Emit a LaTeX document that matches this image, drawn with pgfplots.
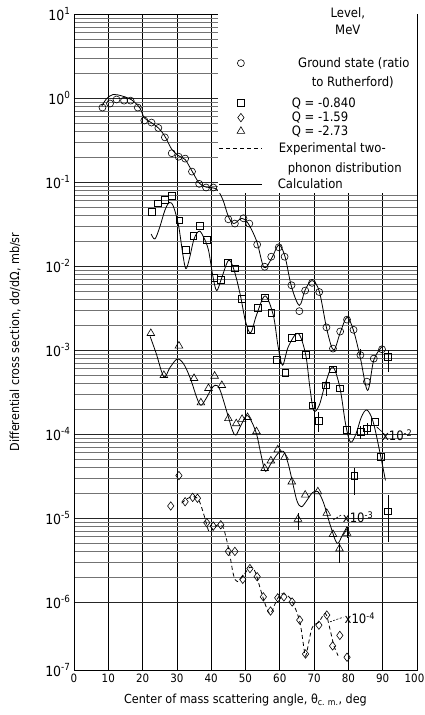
\documentclass[border=0pt]{standalone}
\usepackage{pgfplots}
\pgfplotsset{compat=1.18}
\usepackage{fontspec}
\setmainfont{DejaVu Sans Condensed}
\usetikzlibrary{calc}
% legend text cell of fixed width, no height/depth (spacing comes from the legend images)
\newcommand{\LE}[1]{\smash{\makebox[122bp][l]{#1}}}
\pgfplotsset{
  mymark/.style={legend image code/.code={\path[draw=none,fill=none] (0bp,0bp) rectangle (43bp,#1bp);\draw[##1] plot coordinates {(21.5bp,4bp)};}},
  myline/.style={legend image code/.code={\path[draw=none,fill=none] (0bp,0bp) rectangle (43bp,#1bp);\draw[##1] (0bp,4bp) -- (43bp,4bp);}},
  myblank/.style={legend image code/.code={\path[draw=none,fill=none] (0bp,0bp) rectangle (43bp,#1bp);}},
  mk/.style={only marks, mark options={solid, draw=black, fill=white, line width=0.6bp}, mark size=3.5bp},
  crv/.style={black, line width=0.8bp, smooth, tension=0.55, mark=none},
  ebar/.style={error bars/.cd, y dir=both, y explicit, error mark=none,
     error bar style={black, line width=0.6bp, solid}},
}
\begin{document}
\begin{tikzpicture}
\begin{axis}[
  name=ax,
  scale only axis, width=343bp, height=656bp,
  ymode=log, xmin=0, xmax=100, ymin=1.55e-7, ymax=10,
  xtick={0,10,...,100},
  xticklabels={0,10,20,30,40,50,60,70,80,90,100\hspace*{5bp}},
  ytick={1e-6,1e-5,1e-4,1e-3,1e-2,1e-1,1,10},
  yticklabels={10\textsuperscript{-6},10\textsuperscript{-5},10\textsuperscript{-4},10\textsuperscript{-3},10\textsuperscript{-2},10\textsuperscript{-1},10\textsuperscript{0},10\textsuperscript{1}},
  extra y ticks={1.55e-7}, extra y tick labels={10\textsuperscript{-7}},
  extra y tick style={grid=none},
  /pgf/number format/assume math mode=true,
  xticklabel style={font=\fontsize{11.5}{12}\selectfont},
  yticklabel style={font=\fontsize{14}{14}\selectfont},
  major tick length=0pt, minor tick length=0pt,
  grid=both,
  major grid style={black!85, line width=0.7bp},
  minor grid style={black!55, line width=0.4bp},
  x grid style={black, line width=0.7bp},
  axis line style={black, line width=0.8bp},
  clip=false,
  xlabel={Center of mass scattering angle, θ\textsubscript{c. m.}, deg},
  ylabel={Differential cross section, dσ/dΩ, mb/sr},
  label style={font=\fontsize{12.5}{13}\selectfont},
  xlabel style={at={(axis description cs:0.5,-0.046)}, anchor=center},
  ylabel style={at={(axis description cs:-0.172,0.5)}, anchor=center},
  legend style={at={(rel axis cs:1,1)}, anchor=north east, draw=none, fill=white,
     inner sep=1bp, font=\fontsize{13}{13}\selectfont, row sep=0bp,
     cells={anchor=base west, inner sep=0bp},
     /tikz/every odd column/.append style={column sep=27bp}},
]
% ---- legend ----
\addlegendimage{myblank=1}
\addlegendentry{\LE{\makebox[112bp][c]{Level,}}}
\addlegendimage{myblank=14}
\addlegendentry{\LE{\makebox[112bp][c]{MeV}}}
\addlegendimage{mymark=29, black, mark=o, mark size=3.5bp, mark options={fill=white, line width=0.6bp}}
\addlegendentry{\LE{\makebox[124bp][c]{Ground state (ratio}}}
\addlegendimage{myblank=16}
\addlegendentry{\LE{\makebox[122bp][c]{to Rutherford)}}}
\addlegendimage{mymark=17, black, mark=square, mark size=3.4bp, mark options={fill=white, line width=0.6bp}}
\addlegendentry{\LE{Q = -0.840}}
\addlegendimage{mymark=11, black, mark=diamond, mark size=4.2bp, mark options={fill=white, line width=0.6bp}}
\addlegendentry{\LE{Q = -1.59}}
\addlegendimage{mymark=10, black, mark=triangle, mark size=4.4bp, mark options={fill=white, line width=0.6bp}}
\addlegendentry{\LE{Q = -2.73}}
\addlegendimage{myline=14, black, line width=0.8bp, dash pattern=on 4bp off 3bp}
\addlegendentry{\LE{\hspace*{-13bp}Experimental two-}}
\addlegendimage{myblank=16}
\addlegendentry{\LE{\hspace*{-4bp}phonon distribution}}
\addlegendimage{myline=13, black, line width=0.8bp}
\addlegendentry{\LE{\hspace*{-14bp}Calculation}}

% ---- calculation curves ----
\addplot[crv, forget plot] coordinates {
(8.1,0.80)(9.5,0.98)(11.4,1.10)(13.9,1.06)(16.8,0.95)(19.2,0.76)(20.5,0.58)(22.5,0.51)(24.6,0.44)(26.5,0.35)(28.5,0.245)(30.5,0.205)(32.4,0.185)(34.4,0.135)(36.5,0.097)(38.5,0.087)(40.6,0.085)(42,0.079)(43.5,0.06)(45,0.039)(46.6,0.032)(48.9,0.037)(50.8,0.032)(53.3,0.0195)(55.4,0.0096)(57.6,0.0123)(59.7,0.0178)(61.5,0.013)(63.4,0.0057)(65.7,0.0034)(67.4,0.0052)(69.4,0.0067)(71.5,0.005)(73.8,0.0017)(75.7,0.001)(77.6,0.0016)(79.6,0.00245)(81.5,0.0017)(83.5,0.0008)(85.6,0.00033)(87.4,0.00076)(89.8,0.0011)};
\addplot[crv, forget plot] coordinates {
(22.5,0.024)(23.6,0.021)(25,0.029)(26.5,0.046)(27.8,0.057)(29,0.051)(30.5,0.03)(31.7,0.014)(32.6,0.0093)(33.6,0.012)(35,0.021)(36.5,0.026)(37.8,0.022)(39.2,0.0155)(40.5,0.0075)(41.6,0.0051)(43,0.0071)(45,0.0116)(46.5,0.0094)(48.4,0.0047)(50,0.0022)(51.5,0.0016)(53.2,0.0026)(55.7,0.0044)(58.1,0.0026)(59.5,0.0011)(60.8,0.00066)(62.5,0.0011)(65.3,0.00158)(67.5,0.0009)(68.8,0.00035)(69.9,0.00019)(71.5,0.00022)(73.3,0.0004)(75.4,0.00063)(77.5,0.00036)(79.2,0.00013)(80.6,0.00008)(82.2,0.0001)(83.8,0.00016)(85.4,0.000193)(87.2,0.00014)(89.2,6e-5)(90.8,2.8e-5)};
\addplot[crv, forget plot] coordinates {
(22.2,0.00145)(24,0.0009)(26.2,0.00048)(28,0.00062)(30.1,0.00078)(32,0.00068)(34,0.00045)(35.8,0.00027)(37,0.00022)(38.4,0.00026)(40,0.00034)(41.1,0.00038)(42.5,0.00034)(45,0.00016)(46.2,0.00011)(47.2,0.000097)(48.8,0.00013)(50.4,0.000166)(51.8,0.00014)(53.3,0.000097)(54.6,5.5e-5)(55.8,3.6e-5)(57.5,4.5e-5)(59.5,5.9e-5)(61.1,6.2e-5)(62.4,4.5e-5)(63.6,2.8e-5)(65,1.6e-5)(66.3,1.36e-5)(67.8,1.6e-5)(69.5,2e-5)(71.1,2.06e-5)(72.8,1.5e-5)(74.8,8e-6)(76.7,5e-6)(78.2,6.2e-6)(79.6,7.9e-6)};
% ---- experimental two-phonon distribution (dashed) ----
\addplot[crv, dash pattern=on 4bp off 3bp, forget plot] coordinates {
(31.4,1.5e-5)(33,1.7e-5)(35,1.8e-5)(36.5,1.6e-5)(38,1.05e-5)(39.4,6.8e-6)(40.5,7.5e-6)(41.6,8.2e-6)(43.3,8e-6)(44.5,5.5e-6)(45.5,3.5e-6)(46.5,2.1e-6)(47.6,1.75e-6)(49.5,2.1e-6)(51.3,2.6e-6)(52.8,2.3e-6)(54.4,1.4e-6)(56,8.8e-7)(57.3,7.3e-7)(59.1,1.05e-6)(60.6,1.25e-6)(63.1,1.1e-6)(65.7,6.1e-7)(67,2.9e-7)(67.6,2.3e-7)(69.4,4.9e-7)(71.3,5.7e-7)(73.3,7.3e-7)(74.5,5e-7)(75.8,3e-7)(77,2.3e-7)};

% ---- data: ground state (ratio to Rutherford) ----
\addplot[mk, mark=o, forget plot, ebar] coordinates {
(8.3,0.77)(10.5,0.86)(12.4,0.96)(14.6,0.93)(16.5,0.93)(18.6,0.77)(20.5,0.54)(22.6,0.51)(24.6,0.44)(26.5,0.34)(28.5,0.22)(30.5,0.20)(32.4,0.19)(34.4,0.133)(36.5,0.095)(38.5,0.086)(40.6,0.086)(45.0,0.036)(46.9,0.032)(49.4,0.037)(51.1,0.032)(53.4,0.018)(55.6,0.0098)(57.5,0.0129)(59.7,0.0167)(61.4,0.0129)(63.4,0.0059)(65.7,0.0029)(67.4,0.0051)(69.4,0.0063)(71.5,0.0049)(73.6,0.00186)(75.5,0.00104)(77.6,0.00166)(79.6,0.0023)(81.5,0.00174)
(83.5,0.00087) += (0,0.00015) -= (0,0)
(85.4,0.00042)(87.4,0.00079)
(89.8,0.00102) += (0,0.0002) -= (0,0.00015)
};
% ---- Q = -0.840 (x 10^-2) ----
\addplot[mk, mark=square, mark size=3.4bp, forget plot, ebar] coordinates {
(22.6,0.0443)(24.4,0.0557)(26.5,0.061)(28.5,0.068)(30.7,0.035)(32.6,0.0155)(34.8,0.0228)(36.7,0.030)(38.7,0.0204)(40.9,0.0073)(42.8,0.0068)(44.9,0.0108)(46.8,0.0094)(49.0,0.0041)(51.5,0.00175)(53.5,0.0032)(55.6,0.0042)(57.5,0.0028)(59.2,0.00076)(61.6,0.00053)(63.4,0.0014)(65.5,0.00144)(67.6,0.00087)(69.5,0.00022)
(71.3,0.000145) += (0,0.00004) -= (0,0.00004)
(73.5,0.00038) += (0,0.00006) -= (0,0.0001)
(75.5,0.00059)(77.5,0.00035)(79.6,0.000112)
(81.7,3.2e-5) += (0,0.7e-5) -= (0,1.3e-5)
(83.5,0.000106) += (0,0.00002) -= (0,0.00002)
(85.4,0.000117) += (0,0.00002) -= (0,0.00002)
(87.6,0.00014)(89.5,5.3e-5)
(91.6,0.00083) += (0,0.00017) -= (0,0.00028)
(91.6,1.2e-5) += (0,0.68e-5) -= (0,0.68e-5)
};
% ---- Q = -1.59 (x 10^-4) ----
\addplot[mk, mark=diamond, mark size=4.2bp, forget plot] coordinates {
(28.2,1.39e-5)(30.6,3.2e-5)(32.4,1.56e-5)(34.6,1.76e-5)(36.0,1.72e-5)(38.7,8.8e-6)(40.6,8.0e-6)(42.8,8.3e-6)(45.0,4.0e-6)(46.9,4.0e-6)(49.2,1.86e-6)(51.3,2.5e-6)(53.4,2.0e-6)(55.2,1.15e-6)(57.3,7.8e-7)(59.4,1.12e-6)(61.2,1.15e-6)(63.6,1.0e-6)(65.8,6.1e-7)(67.5,2.4e-7)(71.4,5.3e-7)(73.7,7.0e-7)(75.4,3.0e-7)(77.5,4.0e-7)(79.6,2.2e-7)};
% ---- Q = -2.73 (x 10^-3) ----
\addplot[mk, mark=triangle, mark size=4.4bp, forget plot, ebar] coordinates {
(22.4,0.00158)(26.2,0.0005)(30.6,0.00112)(35.0,0.00046)(37.0,0.000236)(39.2,0.00035)(41.0,0.00049)(43.1,0.00038)(45.0,0.000153)(47.3,0.000133)(49.0,0.00015)(50.6,0.000158)(53.2,0.000107)(55.6,3.9e-5)(57.4,4.8e-5)(59.4,6.5e-5)(61.4,5.3e-5)(63.5,2.7e-5)
(65.3,9.7e-6) += (0,1.7e-6) -= (0,2.5e-6)
(67.4,1.88e-5)(71.1,2.06e-5)(73.7,1.14e-5)(75.5,6.4e-6)
(77.4,4.3e-6) += (0,0.8e-6) -= (0,1.4e-6)
(79.6,6.6e-6) += (0,1.2e-6) -= (0,0.8e-6)
};

% ---- scale annotations ----
\draw[black, line width=0.6bp] (axis cs:88.2,1.22e-4) -- (axis cs:89.7,1.07e-4);
\node[anchor=west, inner sep=0.5bp, font=\fontsize{13}{13}\selectfont] at (axis cs:89.6,9.7e-5) {x10\textsuperscript{-2}};
\draw[black, line width=0.6bp, dash pattern=on 2bp off 1.5bp] (axis cs:75.6,9.5e-6) -- (axis cs:78.0,1.09e-5);
\node[anchor=west, inner sep=0.5bp, font=\fontsize{13}{13}\selectfont] at (axis cs:78.2,1.03e-5) {x10\textsuperscript{-3}};
\draw[black, line width=0.6bp, dash pattern=on 2bp off 1.5bp] (axis cs:74.6,5.8e-7) -- (axis cs:78.5,6.6e-7);
\node[anchor=west, inner sep=0.5bp, font=\fontsize{13}{13}\selectfont] at (axis cs:78.7,6.4e-7) {x10\textsuperscript{-4}};
\end{axis}
\pgfresetboundingbox
\path[use as bounding box] ($(ax.south west)+(-74bp,-45bp)$) rectangle ($(ax.north east)+(8bp,14bp)$);
\end{tikzpicture}
\end{document}
